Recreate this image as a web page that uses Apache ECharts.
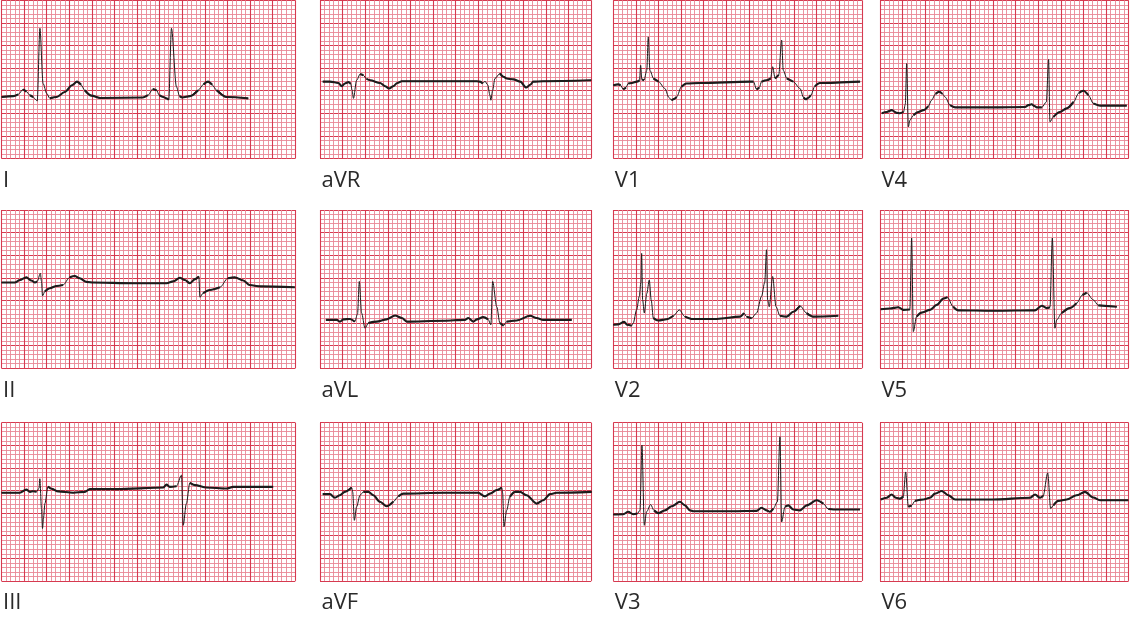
<!DOCTYPE html>
<html>
<head>
<meta charset="utf-8">
<script src="https://cdn.jsdelivr.net/npm/echarts@6/dist/echarts.min.js"></script>
<style>
html,body{margin:0;padding:0;background:#ffffff;}
#chart{width:1130px;height:617px;}
</style>
</head>
<body>
<div id="chart"></div>
<script>
// ---- Data (x: mm along paper, y: mm above panel bottom; 25 mm/s, 10 mm/mV) ----
const leadNames = ['I','aVR','V1','V4','II','aVL','V2','V5','III','aVF','V3','V6'];

const leadI = [[0,13.6],[2.6,13.8],[3.7,14.2],[4.8,15.3],[5.5,14.8],[6.3,14.0],[7.0,13.6],[7.6,13.0],[7.9,12.7],[8.5,28.8],[9.2,16.6],[10.0,14.4],[10.7,13.3],[12.2,13.6],[14.0,14.7],[15.6,16.2],[16.7,17.0],[17.6,16.3],[18.4,15.1],[19.9,13.9],[21.8,13.4],[31.3,13.5],[32.4,14.0],[33.5,15.4],[34.3,15.1],[34.9,14.0],[35.8,13.6],[36.5,13.3],[37.0,13.0],[37.6,28.8],[38.7,15.9],[39.4,13.8],[40.0,13.5],[41.7,13.8],[43.5,15.1],[44.7,16.4],[45.7,17.0],[46.6,16.3],[47.6,15.1],[49.8,13.6],[54.6,13.3]];

const leadAVR = [[0.6,17.0],[2.2,17.0],[4.1,16.7],[4.8,16.0],[5.5,16.6],[6.3,16.9],[6.8,16.5],[7.1,15.1],[7.4,13.3],[8.1,17.3],[8.9,18.7],[9.6,18.4],[10.3,17.6],[11.1,17.3],[13.3,16.7],[14.4,16.0],[15.3,15.5],[16.2,16.0],[17.1,16.7],[18.1,17.1],[23.6,17.1],[34.7,17.1],[35.4,17.0],[36.0,16.6],[36.5,17.1],[37.1,16.3],[37.6,14.0],[37.8,12.9],[38.2,15.1],[38.7,17.7],[39.8,18.8],[40.6,18.1],[41.3,17.7],[42.8,17.5],[44.3,17.0],[45.6,15.7],[46.5,16.3],[47.2,17.0],[49.4,17.1],[60,17.3]];

const leadV1 = [[0,16.2],[1.1,16.4],[1.6,16.2],[2.2,15.3],[2.8,15.7],[3.3,16.6],[4.1,16.7],[5.2,17.0],[5.8,17.3],[6.05,20.6],[6.3,17.5],[6.8,17.3],[7.4,19.5],[7.74,26.9],[8.1,19.5],[8.9,17.7],[10.0,17.0],[11.4,15.5],[12.3,13.5],[12.9,12.9],[13.5,13.2],[14.0,13.6],[15.1,15.9],[16.2,16.6],[19.2,16.7],[30.2,17.0],[31.0,17.0],[31.7,15.3],[32.3,15.7],[32.8,17.0],[33.9,17.3],[34.8,17.7],[35.25,20.3],[35.8,17.7],[36.6,18.5],[37.24,26.2],[37.6,19.5],[38.4,17.7],[39.8,17.0],[41.3,15.5],[42.1,13.5],[42.6,13.1],[43.1,13.4],[43.7,14.0],[44.6,16.0],[45.7,16.7],[54.6,17.0]];

const leadV4 = [[0.4,10.0],[1.5,10.3],[2.6,10.7],[3.7,10.1],[4.4,10.0],[5.2,10.3],[5.6,12.0],[5.9,21.0],[6.27,7.0],[6.64,8.5],[7.4,9.6],[8.5,10.3],[9.6,10.7],[10.7,11.6],[11.4,12.9],[12.3,14.3],[13.1,14.8],[13.8,14.3],[14.4,13.6],[15.5,11.8],[16.6,11.3],[25.1,11.3],[32.1,11.4],[32.8,11.8],[33.55,12.0],[34.2,11.6],[34.7,11.3],[35.8,11.3],[36.8,12.5],[37.3,21.9],[37.6,8.1],[38.35,9.2],[39.8,10.3],[41.3,11.1],[42.8,12.5],[44.0,14.5],[45.0,15.0],[46.1,14.0],[47.2,12.2],[48.7,11.7],[54.6,11.7]];

const leadII = [[0,18.95],[2.95,18.95],[4.06,19.5],[5.5,20.1],[6.6,19.4],[7.4,18.95],[7.9,19.2],[8.6,21.0],[8.85,19.2],[9.07,16.0],[9.6,17.0],[10.7,17.7],[12.2,18.2],[13.6,18.4],[15.1,20.1],[16.2,20.4],[17.3,19.9],[18.8,19.1],[20.3,18.95],[29.1,18.8],[36.5,18.8],[38.0,19.2],[39.45,20.0],[40.56,19.5],[41.7,18.8],[42.8,19.7],[43.66,20.3],[43.9,15.7],[44.6,16.6],[46.1,17.3],[48.3,17.9],[50.1,19.9],[51.6,20.1],[53.5,19.4],[54.9,18.4],[57.2,18.1],[64.9,17.9]];

const leadAVL = [[1.3,10.7],[3.7,10.7],[4.4,10.3],[5.2,10.8],[6.6,10.9],[7.7,10.3],[8.3,12.0],[8.7,19.2],[9.2,12.2],[9.96,8.85],[10.7,10.0],[12.5,10.3],[14.75,10.8],[16.6,11.65],[18.1,11.1],[19.2,10.3],[27.3,10.5],[32.1,10.7],[32.8,11.1],[33.9,10.3],[34.7,10.8],[36.1,11.3],[37.2,10.8],[37.8,9.6],[38.2,19.2],[39.1,13.6],[39.8,10.0],[40.6,9.4],[41.3,10.3],[43.5,10.55],[46.5,11.6],[47.9,11.1],[49.4,10.7],[55.7,10.7]];

const leadV2 = [[0,9.6],[1.1,9.7],[2.4,10.25],[3.1,9.6],[4.06,9.4],[4.4,9.96],[5.16,12.9],[5.75,15.9],[6.1,19.0],[6.27,25.4],[6.49,15.1],[6.86,12.2],[7.4,16.5],[7.96,19.5],[8.4,15.0],[8.85,11.1],[9.96,10.55],[11.8,10.84],[13.3,11.6],[14.6,12.9],[15.86,11.4],[17.33,10.9],[22.86,10.9],[28.0,11.4],[28.9,12.2],[29.5,11.4],[30.6,11.06],[31.7,12.2],[32.8,15.9],[33.5,19.0],[33.9,26.2],[34.14,15.1],[34.5,13.6],[35.25,20.3],[36.0,13.6],[36.87,11.6],[38.35,11.4],[39.8,12.5],[41.3,13.8],[42.77,12.2],[44.25,11.4],[49.78,11.6]];

const leadV5 = [[0.15,13.05],[2.2,13.2],[4.06,13.5],[5.16,12.9],[6.6,13.0],[7.0,28.8],[7.37,8.1],[8.1,11.4],[9.2,12.3],[11.06,12.9],[12.54,14.0],[14.0,15.4],[14.9,15.7],[16.2,13.6],[17.3,12.8],[25.1,12.7],[34.3,12.8],[35.8,13.8],[36.9,13.3],[37.6,13.5],[38.13,28.8],[38.7,8.85],[39.1,10.7],[40.2,12.2],[42.0,13.3],[43.5,14.4],[44.8,16.2],[45.7,16.7],[47.2,15.1],[48.3,13.9],[52.4,13.6]];

const leadIII = [[0,19.5],[4.06,19.5],[5.5,20.2],[6.3,19.7],[7.0,19.84],[7.74,19.7],[8.3,20.5],[8.48,22.6],[8.85,16.0],[9.07,11.6],[9.3,14.0],[9.6,17.1],[10.3,20.9],[11.06,20.4],[12.54,19.8],[15.86,19.5],[18.44,19.7],[19.54,20.3],[25.44,20.3],[35.77,20.65],[36.5,21.3],[37.24,20.8],[38.7,20.94],[39.82,23.4],[40.2,12.3],[40.9,17.1],[41.67,21.7],[42.77,21.2],[45.35,20.65],[49.78,20.43],[51.25,20.8],[60.1,20.8]];

const leadAVF = [[0.6,19.2],[2.2,19.2],[3.3,18.4],[4.4,18.95],[5.5,19.7],[7.0,20.65],[7.23,19.7],[7.6,13.4],[8.1,16.4],[8.85,18.95],[9.6,19.7],[10.7,19.7],[11.8,18.95],[13.27,17.5],[14.75,16.5],[16.2,17.5],[17.33,18.7],[18.44,19.3],[27.3,19.5],[35.0,19.5],[36.5,18.7],[37.6,19.3],[39.1,20.1],[40.2,20.65],[40.4,19.5],[40.7,12.0],[41.3,15.6],[42.0,18.6],[43.14,19.7],[44.25,19.7],[45.7,18.95],[47.94,17.1],[49.4,17.85],[50.9,19.2],[52.36,19.5],[60.1,19.7]];

const leadV3 = [[0,14.7],[2.2,14.75],[3.3,15.3],[4.4,14.75],[5.3,14.9],[5.9,15.6],[6.34,30.0],[6.86,12.3],[7.37,15.3],[8.26,16.9],[9.0,15.6],[9.96,15.0],[11.43,15.6],[12.9,16.5],[14.75,17.5],[15.86,16.7],[16.96,15.6],[17.7,15.4],[26.55,15.4],[31.7,15.5],[32.8,16.2],[33.9,15.6],[34.66,15.3],[35.4,16.0],[36.3,17.5],[36.87,31.9],[37.24,13.05],[37.98,16.4],[38.72,16.7],[39.82,15.8],[41.3,15.6],[42.77,16.7],[45.0,17.85],[46.46,17.1],[47.57,15.9],[48.67,15.8],[54.57,15.8]];

const leadV6 = [[0.15,18.0],[1.47,18.4],[2.58,19.1],[3.54,18.4],[4.42,18.2],[5.16,18.7],[5.68,24.1],[6.27,16.4],[7.0,16.7],[7.74,17.7],[9.59,18.0],[11.06,18.4],[12.17,19.3],[13.64,19.9],[15.1,18.95],[16.6,18.0],[24.93,18.0],[33.2,18.4],[34.3,19.1],[35.4,18.4],[36.1,18.8],[37.1,23.9],[37.76,16.0],[38.35,16.7],[39.45,17.7],[41.3,18.0],[43.5,18.95],[45.35,19.7],[47.2,18.44],[48.67,17.85],[54.94,17.85]];

const paperWidthMm = [65, 60, 55, 55];   // per column: 13, 12, 11, 11 large squares
const paperHeightMm = 35;                // 7 large squares

// ---- Layout / style ----
const traces = [leadI, leadAVR, leadV1, leadV4, leadII, leadAVL, leadV2, leadV5, leadIII, leadAVF, leadV3, leadV6];
const colLeft = [1.5, 320, 613.3, 880];
const rowTop = [0.3, 210, 422.7];
const PX = 4.52;
const MAJOR = '#d63a50';
const MINOR = '#e98896';
const INK = '#1c1c1c';

function thickParts(pts, maxSlope) {
  const out = [];
  let prevIn = false;
  for (let i = 0; i < pts.length - 1; i++) {
    const a = pts[i], b = pts[i + 1];
    const s = Math.abs((b[1] - a[1]) / (b[0] - a[0]));
    if (s < maxSlope) {
      if (!prevIn) { if (out.length) out.push([a[0], '-']); out.push(a); }
      out.push(b); prevIn = true;
    } else prevIn = false;
  }
  return out;
}

const grids = [], xAxes = [], yAxes = [], series = [], graphics = [];
traces.forEach((pts, i) => {
  const r = Math.floor(i / 4), c = i % 4;
  const w = paperWidthMm[c];
  grids.push({ left: colLeft[c], top: rowTop[r], width: w * PX, height: paperHeightMm * PX, show: false });
  const axisCommon = {
    gridIndex: i, type: 'value', interval: 5,
    axisLine: { show: false }, axisTick: { show: false }, axisLabel: { show: false },
    splitLine: { show: true, lineStyle: { color: MAJOR, width: 1.1 } },
    minorTick: { show: false, splitNumber: 5 },
    minorSplitLine: { show: true, lineStyle: { color: MINOR, width: 0.9 } }
  };
  xAxes.push(Object.assign({ min: 0, max: w }, axisCommon));
  yAxes.push(Object.assign({ min: 0, max: paperHeightMm }, axisCommon));
  series.push({
    type: 'line', xAxisIndex: i, yAxisIndex: i, data: pts,
    showSymbol: false, smooth: 0.3, smoothMonotone: 'x', silent: true,
    lineStyle: { color: INK, width: 1.0 }, z: 3
  });
  series.push({
    type: 'line', xAxisIndex: i, yAxisIndex: i, data: thickParts(pts, 1.0),
    showSymbol: false, smooth: 0.3, smoothMonotone: 'x', silent: true, connectNulls: false,
    lineStyle: { color: INK, width: 2.1 }, z: 4
  });
  graphics.push({
    type: 'text', x: colLeft[c] + 1.5, y: rowTop[r] + 180.5, silent: true,
    style: { text: leadNames[i], fill: '#2a2a2a', fontSize: 22, fontFamily: '"Open Sans", "Noto Sans", sans-serif', textVerticalAlign: 'middle', textAlign: 'left' }
  });
});

const chart = echarts.init(document.getElementById('chart'), null, { renderer: 'canvas' });
chart.setOption({
  animation: false,
  backgroundColor: '#ffffff',
  grid: grids, xAxis: xAxes, yAxis: yAxes, series: series, graphic: graphics
});
</script>
</body>
</html>
